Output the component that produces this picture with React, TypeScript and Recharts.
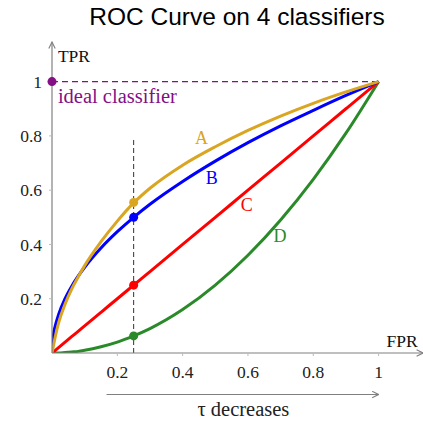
import React from 'react';
import {
  LineChart,
  Line,
  XAxis,
  YAxis,
  ReferenceLine,
  ReferenceDot
} from 'recharts';

// false positive rate grid shared by all four classifiers
const fpr = [0, 0.005, 0.01, 0.02, 0.04, 0.06, 0.08, 0.1, 0.15, 0.2, 0.25, 0.3, 0.4, 0.5, 0.6, 0.7, 0.8, 0.9, 1];
const tprA = [0, 0.03, 0.06, 0.11, 0.18, 0.235, 0.28, 0.322, 0.41, 0.486, 0.553, 0.607, 0.692, 0.76, 0.82, 0.873, 0.92, 0.962, 1];
const tprB = [0, 0.071, 0.1, 0.141, 0.2, 0.245, 0.283, 0.316, 0.387, 0.447, 0.5, 0.548, 0.632, 0.707, 0.775, 0.837, 0.894, 0.949, 1];
const tprC = [0, 0.005, 0.01, 0.02, 0.04, 0.06, 0.08, 0.1, 0.15, 0.2, 0.25, 0.3, 0.4, 0.5, 0.6, 0.7, 0.8, 0.9, 1];
const tprD = [0, 0, 0, 0, 0.002, 0.004, 0.006, 0.01, 0.023, 0.04, 0.063, 0.09, 0.16, 0.25, 0.36, 0.49, 0.64, 0.81, 1];

// operating points at the threshold marked by the dashed line
const thresholdFpr = 0.25;
const thresholdTpr = { a: 0.555, b: 0.5, c: 0.25, d: 0.063 };

const xTicks = [0.2, 0.4, 0.6, 0.8, 1];
const yTicks = [0.2, 0.4, 0.6, 0.8, 1];

const COLORS = { a: '#daa520', b: '#0000ff', c: '#ff0000', d: '#2a8a2a' };
const PURPLE = '#850f85';
const GRAY = '#808080';
const SERIF = "'Liberation Serif', 'DejaVu Serif', serif";

const data = fpr.map((x, i) => ({ fpr: x, a: tprA[i], b: tprB[i], c: tprC[i], d: tprD[i] }));

const textLabel = (text: string, color: string, size = 18, anchor = 'middle') => (props: any) => {
  const vb = props.viewBox || {};
  const x = vb.x ?? props.x;
  const y = vb.y ?? props.y;
  return (
    <text x={x} y={y} dy="0.35em" textAnchor={anchor} fill={color} style={{ fontFamily: SERIF, fontSize: size }}>
      {text}
    </text>
  );
};

const XTick = (props: any) => (
  <text x={props.x} y={props.y} dy="0.71em" textAnchor="middle" fill="#222" style={{ fontFamily: SERIF, fontSize: 17.5 }}>
    {String(props.payload.value)}
  </text>
);

const YTick = (props: any) => (
  <text x={props.x} y={props.y} dy="0.35em" textAnchor="end" fill="#222" style={{ fontFamily: SERIF, fontSize: 17.5 }}>
    {String(props.payload.value)}
  </text>
);

const arrowLine = (props: any) => (
  <line
    x1={props.x1}
    y1={props.y1}
    x2={props.x2}
    y2={props.y2}
    stroke={GRAY}
    strokeWidth={1.2}
    markerEnd="url(#arrowGray)"
  />
);

export default function App() {
  return (
    <div style={{ position: 'absolute', left: 0, top: 0, width: 423, height: 421, background: '#fff', fontFamily: SERIF }}>
      <svg width={0} height={0} style={{ position: 'absolute' }}>
        <defs>
          <marker
            id="arrowGray"
            viewBox="0 0 10 10"
            refX="9"
            refY="5"
            markerWidth="8"
            markerHeight="8"
            markerUnits="userSpaceOnUse"
            orient="auto-start-reverse"
          >
            <path d="M1,1 L9,5 L1,9" fill="none" stroke={GRAY} strokeWidth="1.4" />
          </marker>
        </defs>
      </svg>

      <div
        style={{
          position: 'absolute',
          left: 237,
          top: 5,
          transform: 'translateX(-50%)',
          whiteSpace: 'nowrap',
          fontFamily: "'Liberation Sans', Arial, sans-serif",
          fontSize: 24.5,
          lineHeight: 1,
          color: '#000'
        }}
      >
        ROC Curve on 4 classifiers
      </div>

      <LineChart width={423} height={421} data={data} margin={{ top: 42, right: 0, bottom: 38, left: 8 }}>
        <XAxis
          type="number"
          dataKey="fpr"
          domain={[0, 1.136]}
          ticks={xTicks}
          height={30}
          tickSize={3}
          tickMargin={10}
          allowDataOverflow
          axisLine={{ stroke: GRAY, strokeWidth: 1.2, markerEnd: 'url(#arrowGray)' }}
          tickLine={{ stroke: '#bbb' }}
          tick={<XTick />}
        />
        <YAxis
          type="number"
          domain={[0, 1.146]}
          ticks={yTicks}
          width={44}
          tickSize={3}
          tickMargin={7}
          allowDataOverflow
          axisLine={{ stroke: GRAY, strokeWidth: 1.2, markerStart: 'url(#arrowGray)' }}
          tickLine={{ stroke: '#bbb' }}
          tick={<YTick />}
        />

        {/* ideal classifier */}
        <ReferenceLine
          segment={[{ x: 0, y: 1 }, { x: 1, y: 1 }]}
          stroke={PURPLE}
          strokeWidth={1.2}
          strokeDasharray="6 4"
          ifOverflow="visible"
        />
        {/* threshold */}
        <ReferenceLine
          segment={[{ x: thresholdFpr, y: 0 }, { x: thresholdFpr, y: 0.79 }]}
          stroke="#333"
          strokeWidth={1}
          strokeDasharray="5 3"
          ifOverflow="visible"
        />

        <Line type="monotone" dataKey="d" stroke={COLORS.d} strokeWidth={3} dot={false} isAnimationActive={false} />
        <Line type="monotone" dataKey="c" stroke={COLORS.c} strokeWidth={3} dot={false} isAnimationActive={false} />
        <Line type="monotone" dataKey="b" stroke={COLORS.b} strokeWidth={3} dot={false} isAnimationActive={false} />
        <Line type="monotone" dataKey="a" stroke={COLORS.a} strokeWidth={3} dot={false} isAnimationActive={false} />

        <ReferenceDot x={0} y={1} r={4.5} fill={PURPLE} stroke="none" ifOverflow="visible" />
        <ReferenceDot x={thresholdFpr} y={thresholdTpr.a} r={4.5} fill={COLORS.a} stroke="none" ifOverflow="visible" />
        <ReferenceDot x={thresholdFpr} y={thresholdTpr.b} r={4.5} fill={COLORS.b} stroke="none" ifOverflow="visible" />
        <ReferenceDot x={thresholdFpr} y={thresholdTpr.c} r={4.5} fill={COLORS.c} stroke="none" ifOverflow="visible" />
        <ReferenceDot x={thresholdFpr} y={thresholdTpr.d} r={4.5} fill={COLORS.d} stroke="none" ifOverflow="visible" />

        {/* curve labels */}
        <ReferenceDot x={0.458} y={0.792} r={0} ifOverflow="visible" label={textLabel('A', COLORS.a)} />
        <ReferenceDot x={0.489} y={0.645} r={0} ifOverflow="visible" label={textLabel('B', COLORS.b)} />
        <ReferenceDot x={0.596} y={0.545} r={0} ifOverflow="visible" label={textLabel('C', COLORS.c)} />
        <ReferenceDot x={0.698} y={0.434} r={0} ifOverflow="visible" label={textLabel('D', COLORS.d)} />
        <ReferenceDot x={0.018} y={0.947} r={0} ifOverflow="visible" label={textLabel('ideal classifier', PURPLE, 20.5, 'start')} />

        {/* axis names */}
        <ReferenceDot x={0.018} y={1.094} r={0} ifOverflow="visible" label={textLabel('TPR', '#111', 17.5, 'start')} />
        <ReferenceDot x={1.072} y={0.044} r={0} ifOverflow="visible" label={textLabel('FPR', '#111', 17.5)} />

        {/* threshold direction */}
        <ReferenceLine
          segment={[{ x: 0.167, y: -0.153 }, { x: 1, y: -0.153 }]}
          ifOverflow="visible"
          shape={arrowLine}
        />
        <ReferenceDot x={0.586} y={-0.206} r={0} ifOverflow="visible" label={textLabel('τ decreases', '#222', 20.5)} />
      </LineChart>
    </div>
  );
}
